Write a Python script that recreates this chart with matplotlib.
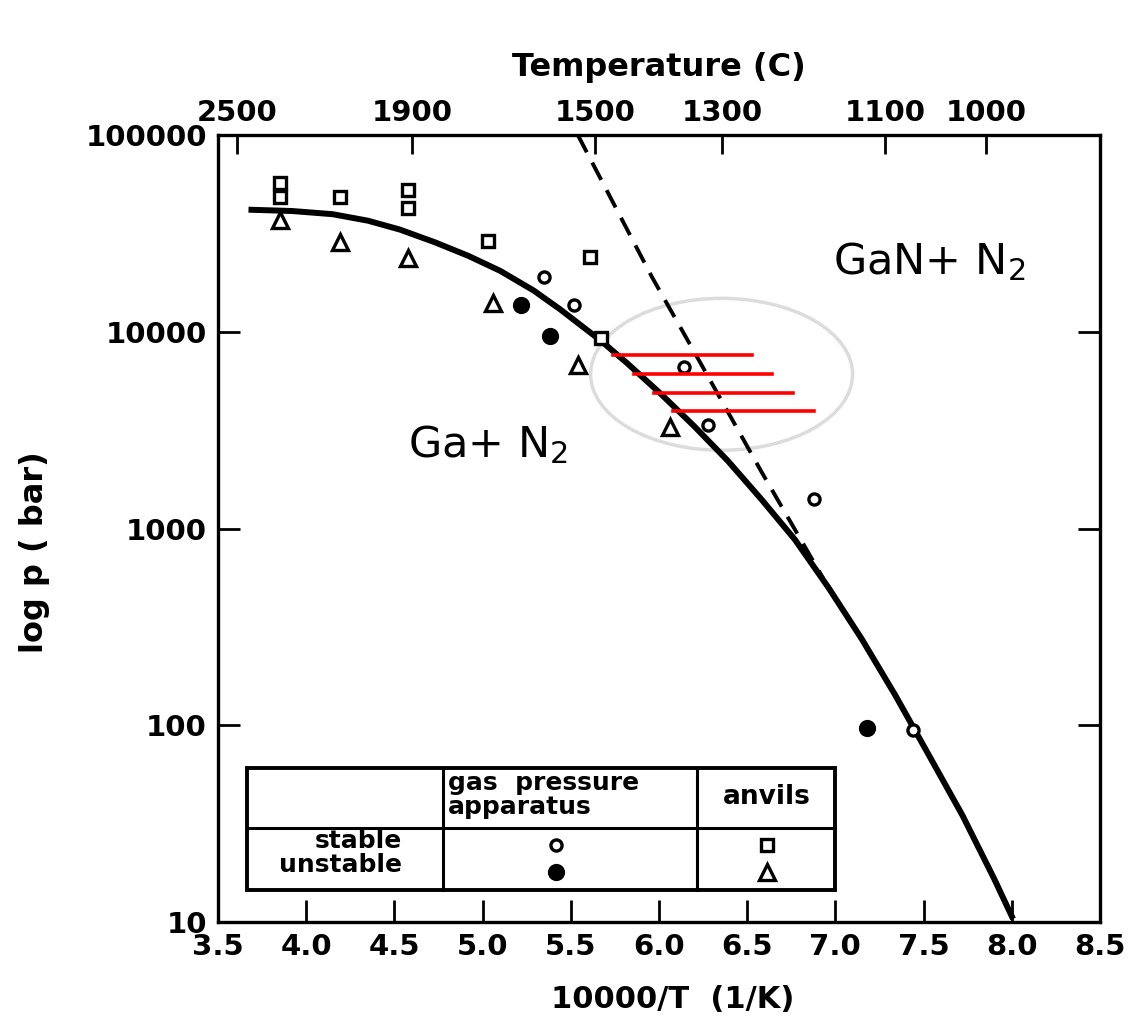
import matplotlib.pyplot as plt
from matplotlib.patches import Ellipse, Rectangle
from matplotlib.ticker import NullLocator

# x = 10000/T (1/K), p in bar
anv_stable_x = [3.85, 3.85, 4.19, 4.58, 4.58, 5.03, 5.61, 5.67]
anv_stable_p = [57000, 48400, 48400, 52600, 42500, 29000, 24000, 9300]
anv_unstable_x = [3.85, 4.19, 4.58, 5.06, 5.54, 6.06]
anv_unstable_p = [37000, 28700, 23800, 14000, 6800, 3300]
gas_stable_x = [5.35, 5.52, 6.14, 6.28, 6.88, 7.44]
gas_stable_p = [19000, 13700, 6640, 3340, 1420, 95]
gas_unstable_x = [5.22, 5.38, 7.18]
gas_unstable_p = [13700, 9550, 97]

# equilibrium curve
curve_x = [3.69, 3.92, 4.15, 4.35, 4.53, 4.73, 4.92, 5.10, 5.29, 5.44, 5.67, 5.82,
           6.01, 6.20, 6.39, 6.58, 6.77, 6.96, 7.15, 7.34, 7.53, 7.72, 7.90, 8.00]
curve_p = [41700, 41100, 39600, 36700, 33100, 28500, 24300, 20400, 16200, 13000,
           9020, 6920, 4840, 3310, 2210, 1410, 880, 502, 274, 142, 70.5, 34.9, 16.6, 10.7]

# dashed line
dash_x = [5.54, 5.96, 6.20, 6.58, 6.93]
dash_p = [100000, 19000, 7900, 1950, 560]

# red marks
red_p = [7640, 6120, 4900, 3970]
red_x0 = [5.74, 5.86, 5.97, 6.08]
red_x1 = [6.53, 6.64, 6.76, 6.88]

x_ticks = [3.5, 4.0, 4.5, 5.0, 5.5, 6.0, 6.5, 7.0, 7.5, 8.0, 8.5]
y_ticks = [10, 100, 1000, 10000, 100000]
temps_c = [2500, 1900, 1500, 1300, 1100, 1000]

fig = plt.figure(figsize=(11.34, 10.34), dpi=100)
ax = fig.add_axes([0.1922, 0.1083, 0.7778, 0.7611])
ax.set_yscale('log')
ax.set_xlim(3.5, 8.5)
ax.set_ylim(10, 100000)

ax.plot(curve_x, curve_p, color='black', lw=4.3, solid_joinstyle='round', zorder=3)
ax.plot(dash_x, dash_p, color='black', lw=2.8, dashes=(5, 3), zorder=3)

mk = dict(linestyle='none', color='black', markeredgewidth=2.4, zorder=4)
ax.plot(anv_stable_x, anv_stable_p, marker='s', ms=9, mfc='white', **mk)
ax.plot(anv_unstable_x, anv_unstable_p, marker='^', ms=11, mfc='white', **mk)
ax.plot(gas_stable_x, gas_stable_p, marker='o', ms=8, mfc='white', **mk)
ax.plot(gas_unstable_x, gas_unstable_p, marker='o', ms=10, mfc='black', **mk)

for x0, x1, p in zip(red_x0, red_x1, red_p):
    ax.plot([x0, x1], [p, p], color='red', lw=2.6, zorder=5)

ax.add_patch(Ellipse((0.571, 0.696), 0.297, 0.193, transform=ax.transAxes,
                     fill=False, edgecolor='#dcdcdc', lw=2.5, zorder=2))

ax.text(5.03, 2670, 'Ga+ N$_2$', fontsize=31, ha='center', va='center')
ax.text(7.53, 22600, 'GaN+ N$_2$', fontsize=31, ha='center', va='center')

# legend table
tr = ax.transAxes
tk = dict(transform=tr, zorder=8, fontweight='bold')
ax.add_patch(Rectangle((0.033, 0.0407), 0.6665, 0.155, transform=tr,
                       facecolor='white', edgecolor='black', lw=2.8, zorder=6))
ax.plot([0.033, 0.6995], [0.1194, 0.1194], transform=tr, color='black', lw=2.2, zorder=7)
for xv in [0.2551, 0.5431]:
    ax.plot([xv, xv], [0.0407, 0.1957], transform=tr, color='black', lw=2.2, zorder=7)
ax.text(0.2608, 0.1610, 'gas  pressure\napparatus', fontsize=18, ha='left',
        va='center', linespacing=1.0, **tk)
ax.text(0.6224, 0.1588, 'anvils', fontsize=19, ha='center', va='center', **tk)
ax.text(0.2086, 0.0880, 'stable\nunstable', fontsize=18, ha='right',
        va='center', linespacing=1.0, **tk)
lk = dict(transform=tr, linestyle='none', color='black', markeredgewidth=2.4, zorder=8)
ax.plot([0.3832], [0.0978], marker='o', ms=8, mfc='white', **lk)
ax.plot([0.3832], [0.0635], marker='o', ms=10, mfc='black', **lk)
ax.plot([0.6224], [0.0978], marker='s', ms=9, mfc='white', **lk)
ax.plot([0.6224], [0.0635], marker='^', ms=11, mfc='white', **lk)

ax.set_xticks(x_ticks)
ax.set_xticklabels(['%.1f' % v for v in x_ticks], fontweight='bold')
ax.set_yticks(y_ticks)
ax.set_yticklabels([str(v) for v in y_ticks], fontweight='bold')
ax.yaxis.set_minor_locator(NullLocator())
ax.tick_params(direction='in', length=16, width=2, labelsize=21, right=True, pad=8)
ax.set_xlabel('10000/T  (1/K)', fontsize=22, fontweight='bold')
ax.xaxis.set_label_coords(0.515, -0.08)
ax.set_ylabel('log p ( bar)', fontsize=23, fontweight='bold')
ax.yaxis.set_label_coords(-0.19, 0.47)
for s in ax.spines.values():
    s.set_linewidth(2.4)

ax2 = ax.twiny()
ax2.set_xlim(3.5, 8.5)
ax2.set_xticks([10000 / (c + 273) for c in temps_c])
ax2.set_xticklabels([str(c) for c in temps_c], fontweight='bold')
ax2.tick_params(direction='in', length=14, width=2, labelsize=21, pad=6)
ax2.set_xlabel('Temperature (C)', fontsize=23, fontweight='bold', labelpad=16)

fig.savefig('out.png', dpi=100)
